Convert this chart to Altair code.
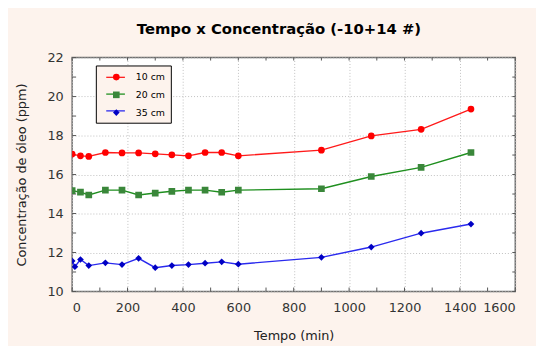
import altair as alt
import pandas as pd

# ---- data ----
series = ["10 cm", "20 cm", "35 cm"]
times_main = [0, 30, 60, 120, 180, 240, 300, 360, 420, 480, 540, 600, 900, 1080, 1260, 1440]
times_blue = [0, 10, 30, 60, 120, 180, 240, 300, 360, 420, 480, 540, 600, 900, 1080, 1260, 1440]
conc_10 = [17.05, 16.96, 16.93, 17.13, 17.11, 17.11, 17.06, 17.01, 16.96, 17.13, 17.13, 16.96, 17.25, 17.98, 18.32, 19.36]
conc_20 = [15.17, 15.10, 14.95, 15.20, 15.20, 14.95, 15.05, 15.14, 15.20, 15.20, 15.09, 15.20, 15.27, 15.90, 16.37, 17.13]
conc_35 = [11.57, 11.27, 11.64, 11.33, 11.47, 11.38, 11.70, 11.22, 11.33, 11.38, 11.45, 11.52, 11.40, 11.75, 12.28, 12.99, 13.46]
x_labels = [0, 200, 400, 600, 800, 1000, 1200, 1400, 1600]
y_labels = [10, 12, 14, 16, 18, 20, 22]
x_ticks = list(range(0, 1601, 100))
y_ticks = list(range(10, 23, 1))

line_colors = ["#ff1a1a", "#1f8f1f", "#2a2aee"]
marker_colors = ["#ff0000", "#3a873a", "#0000c4"]
marker_shapes = ["circle", "square", "diamond"]

rows = []
for t, c in zip(times_main, conc_10):
    rows.append({"t": t, "c": c, "serie": series[0]})
for t, c in zip(times_main, conc_20):
    rows.append({"t": t, "c": c, "serie": series[1]})
for t, c in zip(times_blue, conc_35):
    rows.append({"t": t, "c": c, "serie": series[2]})
df = pd.DataFrame(rows)

W, H = 449, 237
FONT = "DejaVu Sans"
BG = "#fdf3ed"

xs = alt.Scale(domain=[0, 1600], nice=False, zero=False)
ys = alt.Scale(domain=[10, 22], nice=False, zero=False)

x_axis = alt.Axis(values=x_labels, title="Tempo (min)", grid=True, gridDash=[1, 2],
                  gridColor="#c0c0c0", ticks=False, domain=False, labelPadding=10,
                  titlePadding=16, format="d", labelFont=FONT, labelFontSize=13,
                  labelColor="#333333", titleFont=FONT, titleFontSize=13,
                  titleFontWeight="normal", titleColor="#222222")
y_axis = alt.Axis(values=y_labels, title="Concentração de óleo (ppm)", grid=True,
                  gridDash=[1, 2], gridColor="#c0c0c0", ticks=False, domain=False,
                  labelPadding=9, titlePadding=19, format="d", labelFont=FONT,
                  labelFontSize=13, labelColor="#333333", titleFont=FONT,
                  titleFontSize=13, titleFontWeight="normal", titleColor="#222222")

X = alt.X("t:Q", scale=xs, axis=x_axis)
Y = alt.Y("c:Q", scale=ys, axis=y_axis)

common_leg = dict(title=None, orient="none", legendX=24, legendY=8, padding=7,
                  labelFont=FONT, labelFontSize=9.5, rowPadding=7, cornerRadius=0)

# line-segment legend: draws the framed box; its labels are blank spacers
leg_lines = alt.Legend(**common_leg, strokeColor="#000000", fillColor=BG,
                       symbolType="M-2.2,0H2.2", symbolSize=74, symbolStrokeWidth=1.3,
                       symbolOffset=8, labelOffset=44,
                       labelExpr="'\u2002\u2002\u2002\u2002\u2002'")
# marker legend drawn on top with the real labels
leg_points = alt.Legend(**common_leg, symbolSize=45, symbolOffset=9, labelOffset=15,
                        labelColor="#000000", symbolStrokeWidth=0, symbolOpacity=1)

lines = alt.Chart(df).mark_line(strokeWidth=1.4, clip=True).encode(
    x=X, y=Y,
    color=alt.Color("serie:N", scale=alt.Scale(domain=series, range=line_colors), legend=leg_lines),
)

points = alt.Chart(df).mark_point(filled=True, opacity=1, size=46, clip=True).encode(
    x=X, y=Y,
    color=alt.Color("serie:N", scale=alt.Scale(domain=series, range=marker_colors), legend=leg_points),
    shape=alt.Shape("serie:N", scale=alt.Scale(domain=series, range=marker_shapes), legend=leg_points),
)

tick_color = "#555555"
xt = pd.DataFrame({"t": x_ticks})
yt = pd.DataFrame({"c": y_ticks})
ticks_bottom = alt.Chart(xt).mark_rule(color=tick_color).encode(x=X, y=alt.value(H), y2=alt.value(H - 4))
ticks_top = alt.Chart(xt).mark_rule(color=tick_color).encode(x=X, y=alt.value(0), y2=alt.value(3))
ticks_left = alt.Chart(yt).mark_rule(color=tick_color).encode(y=Y, x=alt.value(0), x2=alt.value(4))
ticks_right = alt.Chart(yt).mark_rule(color=tick_color).encode(y=Y, x=alt.value(W), x2=alt.value(W - 3))

chart = alt.layer(
    ticks_bottom, ticks_top, ticks_left, ticks_right, lines, points
).resolve_scale(
    color="independent", shape="independent"
).properties(
    width=W, height=H,
    title=alt.Title("Tempo x Concentração (-10+14 #)", font=FONT, fontSize=15,
                    fontWeight="bold", color="#000000", anchor="middle", offset=15, dx=-15),
    autosize=alt.AutoSizeParams(type="none"),
    padding={"left": 65, "top": 48, "right": 21, "bottom": 53},
    background=BG,
).configure_view(
    stroke="#707070", strokeWidth=1.5, fill="white"
)

chart.save("out.html", embed_options={"renderer": "svg", "actions": False})
